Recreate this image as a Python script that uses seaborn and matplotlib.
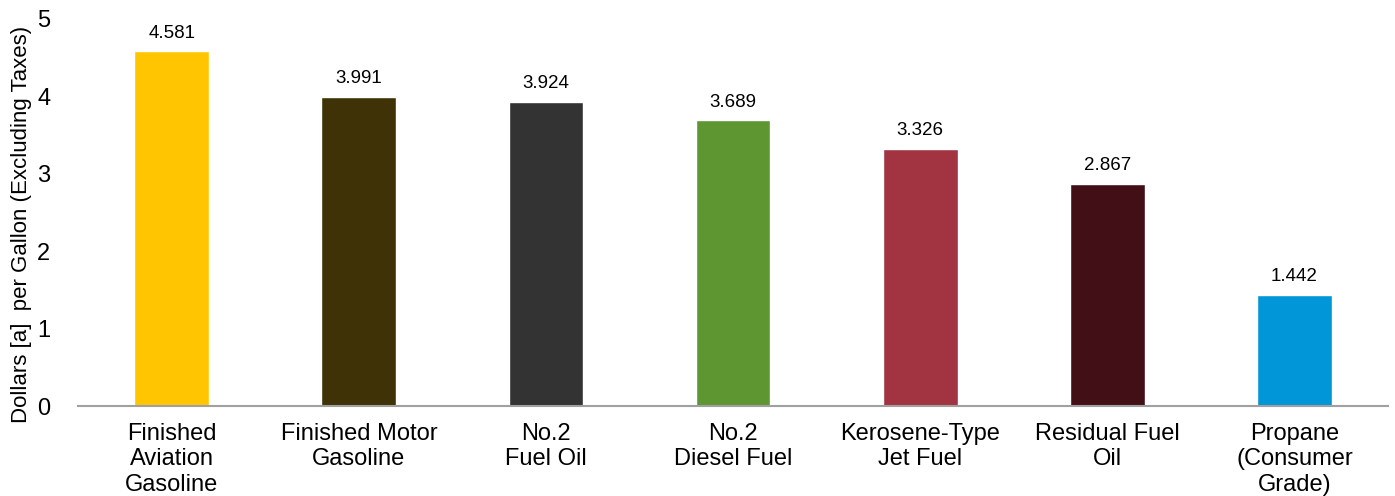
import pandas as pd
import matplotlib.pyplot as plt
import seaborn as sns

categories = [
    "Finished\nAviation\nGasoline",
    "Finished Motor\nGasoline",
    "No.2\nFuel Oil",
    "No.2\nDiesel Fuel",
    "Kerosene-Type\nJet Fuel",
    "Residual Fuel\nOil",
    "Propane\n(Consumer\nGrade)",
]
prices = [4.581, 3.991, 3.924, 3.689, 3.326, 2.867, 1.442]
colors = ["#FFC600", "#3F3207", "#333333", "#5E9732", "#A23340", "#430F16", "#0096D7"]

df = pd.DataFrame({"fuel": categories, "price": prices})

sns.set_style("white")
plt.rcParams["font.family"] = ["Liberation Sans", "DejaVu Sans"]

fig = plt.figure(figsize=(13.95, 4.96), dpi=100)
ax = fig.add_axes([0.056, 0.181, 0.939, 0.781])

sns.barplot(data=df, x="fuel", y="price", hue="fuel", palette=colors,
            width=0.4, saturation=1, legend=False, ax=ax)

for cont in ax.containers:
    ax.bar_label(cont, fmt="%.3f", padding=7, fontsize=13.5, color="black")

ax.set_ylim(0, 5)
ax.set_xlim(-0.5, 6.5)
ax.set_yticks([0, 1, 2, 3, 4, 5])
ax.set_xlabel("")
ax.set_ylabel("Dollars [a]  per Gallon (Excluding Taxes)", fontsize=16, color="black")
ax.yaxis.set_label_coords(-0.035, 0.47)
ax.tick_params(axis="y", labelsize=17, length=0, pad=20, labelcolor="black")
ax.tick_params(axis="x", labelsize=17, length=0, pad=12, labelcolor="black")
plt.setp(ax.get_xticklabels(), linespacing=1.2)
for s in ["top", "right", "left"]:
    ax.spines[s].set_visible(False)
ax.spines["bottom"].set_color("#A0A0A0")
ax.spines["bottom"].set_linewidth(1.5)

fig.savefig("out.png", dpi=100)
